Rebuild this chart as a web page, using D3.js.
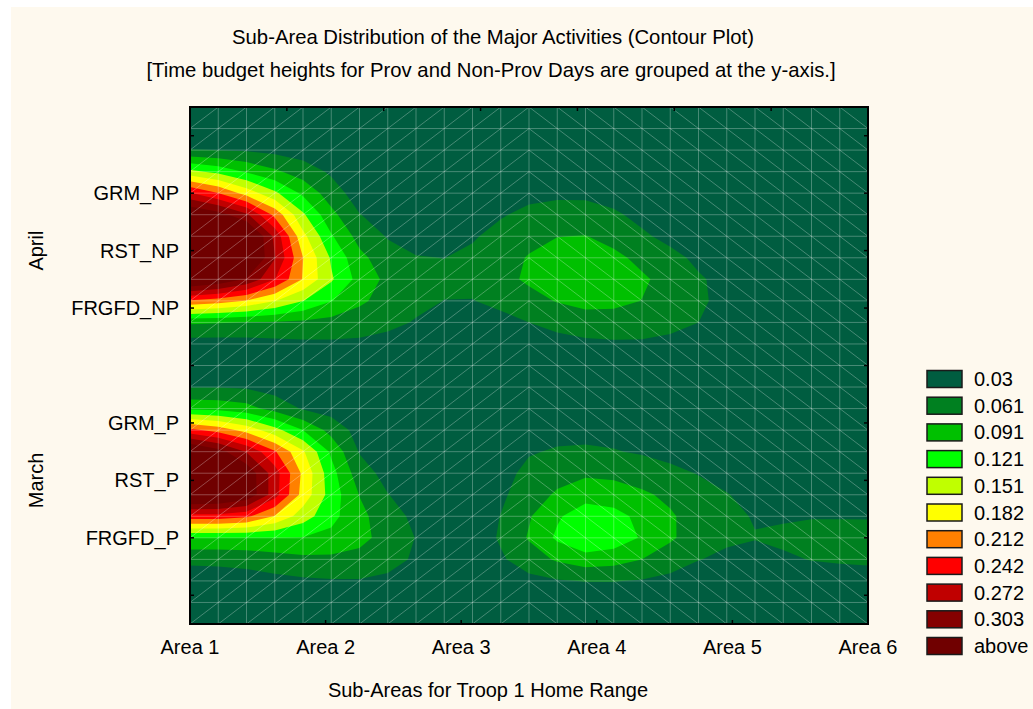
<!DOCTYPE html>
<html>
<head>
<meta charset="utf-8">
<script src="https://cdnjs.cloudflare.com/ajax/libs/d3/7.8.5/d3.min.js"></script>
<style>
body { margin: 0; background: #fff; }
text { font-family: "Liberation Sans", Arial, sans-serif; fill: #000; }
</style>
</head>
<body>
<svg width="1033" height="709"></svg>
<script>
// axis categories
var areas = ["Area 1", "Area 2", "Area 3", "Area 4", "Area 5", "Area 6"];
var rowLabels = ["", "FRGFD_P", "RST_P", "GRM_P", "", "FRGFD_NP", "RST_NP", "GRM_NP", ""];
var months = ["March", "April"];
var monthRows = [3, 7];

// contour levels and their legend colours (first colour = below first level)
var levels = [0.03, 0.061, 0.091, 0.121, 0.151, 0.182, 0.212, 0.242, 0.272, 0.303];
var levelNames = ["0.03", "0.061", "0.091", "0.121", "0.151", "0.182", "0.212", "0.242", "0.272", "0.303", "above"];
var levelColors = ["#005d40", "#008020", "#00c000", "#00ff00", "#c0ff00", "#ffff00",
                   "#ff8000", "#ff0000", "#c00000", "#850000", "#700000"];

// surface heights read off the picture on every 2nd grid line
// (13 columns Area 1 -> Area 6, rows listed bottom -> top)
var z0  = [0.008,0.008,0.008,0.008,0.006,0.005,0.005,0.006,0.006,0.005,0.005,0.006,0.008];
var z1  = [0.015,0.018,0.025,0.028,0.020,0.012,0.022,0.031,0.028,0.015,0.012,0.016,0.021];
var z2  = [0.090,0.090,0.090,0.070,0.029,0.012,0.064,0.118,0.088,0.045,0.031,0.041,0.041];
var z3  = [0.360,0.330,0.170,0.060,0.015,0.010,0.045,0.080,0.066,0.042,0.022,0.012,0.012];
var z4  = [0.350,0.270,0.155,0.028,0.008,0.010,0.028,0.034,0.027,0.015,0.010,0.008,0.008];
var z5  = [0.085,0.072,0.027,0.012,0.008,0.008,0.012,0.015,0.012,0.010,0.005,0.005,0.005];
var z6  = [0.012,0.012,0.010,0.008,0.006,0.005,0.006,0.008,0.008,0.006,0.005,0.005,0.005];
var z7  = [0.065,0.060,0.055,0.045,0.028,0.015,0.030,0.046,0.046,0.030,0.012,0.008,0.006];
var z8  = [0.350,0.300,0.180,0.080,0.040,0.040,0.066,0.088,0.066,0.033,0.015,0.010,0.008];
var z9  = [0.400,0.360,0.160,0.050,0.020,0.027,0.052,0.062,0.034,0.015,0.010,0.005,0.005];
var z10 = [0.245,0.170,0.085,0.015,0.010,0.010,0.022,0.024,0.015,0.010,0.005,0.005,0.005];
var z11 = [0.031,0.027,0.015,0.008,0.005,0.005,0.006,0.006,0.005,0.004,0.003,0.003,0.003];
var z12 = [0.004,0.004,0.003,0.003,0.003,0.003,0.003,0.003,0.003,0.003,0.003,0.003,0.003];
var zRows = [z0, z1, z2, z3, z4, z5, z6, z7, z8, z9, z10, z11, z12];

var W = 1033, H = 709;
var pL = 190, pR = 868, pT = 107, pB = 624;
var N = 25; // fine grid, 24 x 24 cells

var svg = d3.select("svg");
svg.append("rect").attr("x", 11).attr("y", 7).attr("width", W - 11).attr("height", H - 7).attr("fill", "#fef9ee");

var x = d3.scaleLinear().domain([1, 6]).range([pL, pR]);
var y = d3.scaleLinear().domain([0.5, 9.5]).range([pB, pT]);

// refine 13x13 readings to the 25x25 drawing grid (cubic midpoints)
function refine(arr) {
  var out = [], n = arr.length;
  for (var i = 0; i < n; i++) {
    out.push(arr[i]);
    if (i < n - 1) {
      var p0 = arr[Math.max(i - 1, 0)], p1 = arr[i], p2 = arr[i + 1], p3 = arr[Math.min(i + 2, n - 1)];
      out.push(Math.max(0, (-p0 + 9 * p1 + 9 * p2 - p3) / 16));
    }
  }
  return out;
}
var rowsX = zRows.map(refine);            // 13 rows x 25 cols
var grid = [];                            // 25 rows (bottom->top) x 25 cols
for (var i = 0; i < N; i++) {
  var col = refine(rowsX.map(function(r) { return r[i]; }));
  col.forEach(function(v, j) { (grid[j] = grid[j] || [])[i] = v; });
}
var values = [];
for (var j = N - 1; j >= 0; j--) for (var i = 0; i < N; i++) values.push(grid[j][i]);

var gx = function(c) { return 1 + (c - 0.5) * 5 / (N - 1); };
var gy = function(c) { return 9.5 - (c - 0.5) * 9 / (N - 1); };
var path = d3.geoPath(d3.geoTransform({
  point: function(px, py) { this.stream.point(x(gx(px)), y(gy(py))); }
}));

svg.append("clipPath").attr("id", "clip").append("rect")
  .attr("x", pL).attr("y", pT).attr("width", pR - pL).attr("height", pB - pT);

var plot = svg.append("g").attr("clip-path", "url(#clip)");
plot.append("rect").attr("x", pL).attr("y", pT).attr("width", pR - pL).attr("height", pB - pT)
  .attr("fill", levelColors[0]);

var contours = d3.contours().size([N, N]).thresholds(levels)(values);
plot.selectAll("path.band").data(contours).enter().append("path")
  .attr("class", "band")
  .attr("d", path)
  .attr("fill", function(d, k) { return levelColors[k + 1]; });

// triangulated mesh lines
var cellX = d3.range(N).map(function(i) { return 1 + i * 5 / (N - 1); });
var cellY = d3.range(N).map(function(j) { return 0.5 + j * 9 / (N - 1); });
var mesh = plot.append("g").attr("stroke", "#ffffff").attr("stroke-opacity", 0.28).attr("stroke-width", 1);
cellX.forEach(function(a) {
  mesh.append("line").attr("x1", x(a)).attr("x2", x(a)).attr("y1", pT).attr("y2", pB);
});
cellY.forEach(function(v) {
  mesh.append("line").attr("x1", pL).attr("x2", pR).attr("y1", y(v)).attr("y2", y(v));
});
for (var i = 0; i < N - 1; i++) {
  for (var j = 0; j < N - 1; j++) {
    var x0 = x(cellX[i]), x1 = x(cellX[i + 1]), yb = y(cellY[j]), yt = y(cellY[j + 1]);
    var slash = i < 12;
    mesh.append("line")
      .attr("x1", x0).attr("y1", slash ? yb : yt)
      .attr("x2", x1).attr("y2", slash ? yt : yb);
  }
}

// frame and ticks
svg.append("rect").attr("x", pL).attr("y", pT).attr("width", pR - pL).attr("height", pB - pT)
  .attr("fill", "none").attr("stroke", "#000").attr("stroke-width", 2);

var ticks = svg.append("g").attr("stroke", "#000").attr("stroke-width", 1.5);
d3.range(1, 7).forEach(function(a) {
  ticks.append("line").attr("x1", x(a)).attr("x2", x(a)).attr("y1", pB).attr("y2", pB - 4);
});
d3.range(8).forEach(function(k) {
  var px = pL + k * (pR - pL) / 7;
  ticks.append("line").attr("x1", px).attr("x2", px).attr("y1", pT).attr("y2", pT + 4);
});
d3.range(1, 10).forEach(function(v) {
  ticks.append("line").attr("x1", pL).attr("x2", pL + 4).attr("y1", y(v)).attr("y2", y(v));
  ticks.append("line").attr("x1", pR).attr("x2", pR - 4).attr("y1", y(v)).attr("y2", y(v));
});

// labels
svg.selectAll("text.xl").data(areas).enter().append("text")
  .attr("x", function(d, i) { return x(i + 1); }).attr("y", 654)
  .attr("text-anchor", "middle").attr("font-size", 20).text(function(d) { return d; });
svg.selectAll("text.yl").data(rowLabels).enter().append("text")
  .attr("x", 179).attr("y", function(d, i) { return y(i + 1) + 7; })
  .attr("text-anchor", "end").attr("font-size", 20).text(function(d) { return d; });
months.forEach(function(m, k) {
  svg.append("text").attr("transform", "translate(43," + y(monthRows[k]) + ") rotate(-90)")
    .attr("text-anchor", "middle").attr("font-size", 20).text(m);
});

svg.append("text").attr("x", 493).attr("y", 44).attr("text-anchor", "middle").attr("font-size", 20.3)
  .text("Sub-Area Distribution of the Major Activities (Contour Plot)");
svg.append("text").attr("x", 491).attr("y", 77).attr("text-anchor", "middle").attr("font-size", 20.3)
  .text("[Time budget heights for Prov and Non-Prov Days are grouped at the y-axis.]");
svg.append("text").attr("x", 488).attr("y", 697).attr("text-anchor", "middle").attr("font-size", 20)
  .text("Sub-Areas for Troop 1 Home Range");

// legend
var leg = svg.append("g");
levelNames.forEach(function(name, k) {
  var cy = 379 + k * 26.7;
  leg.append("rect").attr("x", 927).attr("y", cy - 8.5).attr("width", 35).attr("height", 17)
    .attr("fill", levelColors[k]).attr("stroke", "#1a1a1a").attr("stroke-width", 1.5);
  leg.append("text").attr("x", 974).attr("y", cy + 7).attr("font-size", 20).text(name);
});
</script>
</body>
</html>
